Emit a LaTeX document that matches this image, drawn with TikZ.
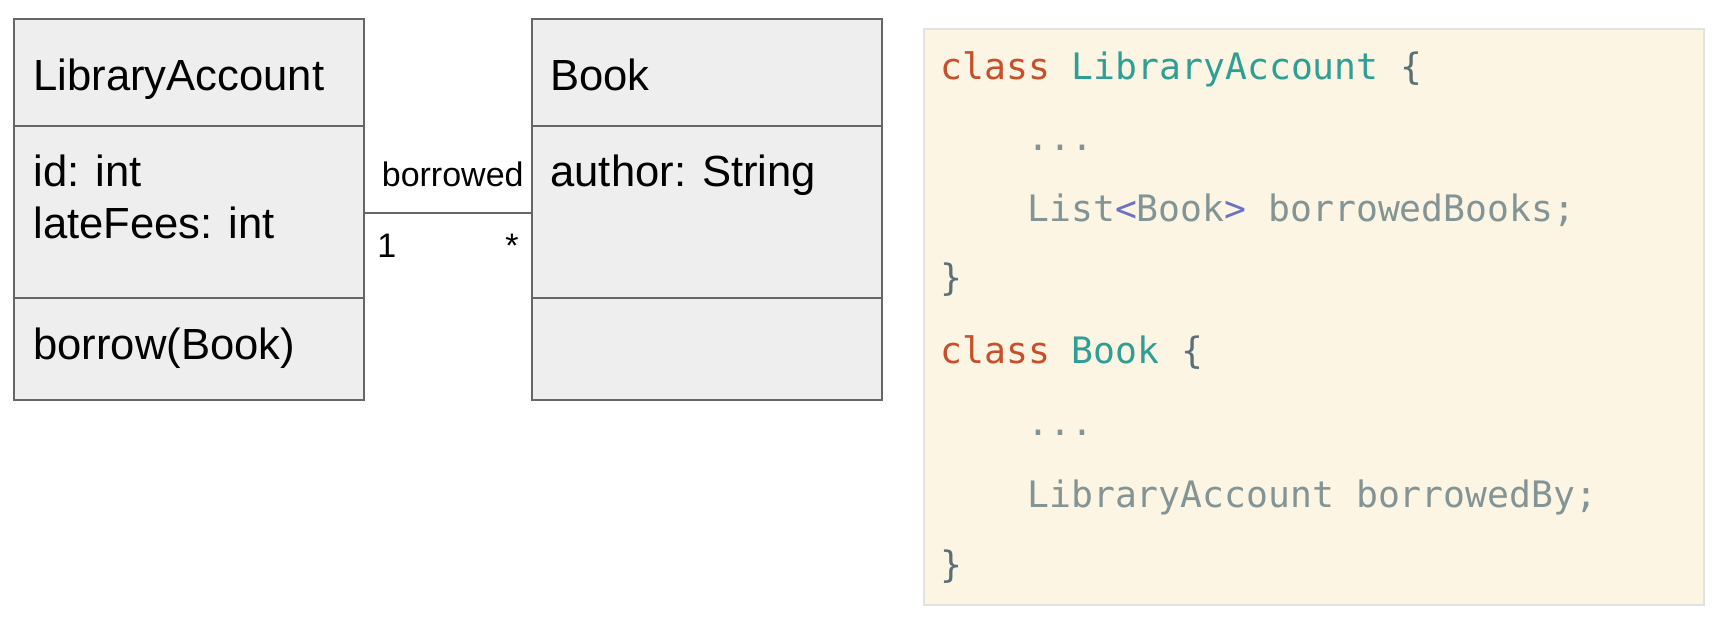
\documentclass[tikz,border=0pt]{standalone}
\usepackage{fontspec}
\setmainfont{Liberation Sans}
\setmonofont{DejaVu Sans Mono}
\definecolor{boxfill}{HTML}{EEEEEE}
\definecolor{boxline}{HTML}{666666}
\definecolor{codebg}{HTML}{FCF5E3}
\definecolor{codeborder}{HTML}{E2E2E2}
\definecolor{kw}{HTML}{C6502A}
\definecolor{cls}{HTML}{2F9F96}
\definecolor{punct}{HTML}{5B6F78}
\definecolor{txt}{HTML}{829495}
\definecolor{gen}{HTML}{6C71C4}
\tikzset{
  umlbox/.style={draw=boxline, fill=boxfill, line width=1.1pt, inner sep=0pt, outer sep=0pt,
    minimum width=175pt, minimum height=190.5pt},
  divider/.style={draw=boxline, line width=1.1pt},
  assoc/.style={draw=boxline, line width=1.1pt},
  umltext/.style={anchor=base west, inner sep=0pt, font=\fontsize{21.8pt}{26pt}\selectfont},
  smalltext/.style={inner sep=0pt, font=\fontsize{17pt}{20pt}\selectfont},
  codepanel/.style={draw=codeborder, fill=codebg, line width=0.6pt, inner sep=0pt, outer sep=0pt,
    minimum width=390pt, minimum height=288pt},
  codeline/.style={anchor=base west, inner sep=0pt, font=\ttfamily\fontsize{18.2pt}{22pt}\selectfont},
}
\begin{document}
\begin{tikzpicture}[x=0.5pt, y=-0.5pt]
\useasboundingbox (0,0) rectangle (1718,622);
% UML boxes
\node[umlbox] (la) at (189,209.5) {};
\node[umlbox] (book) at (707,209.5) {};
\coordinate (d1) at (0,126);
\coordinate (d2) at (0,298);
\draw[divider] (la.west |- d1) -- (la.east |- d1);
\draw[divider] (la.west |- d2) -- (la.east |- d2);
\draw[divider] (book.west |- d1) -- (book.east |- d1);
\draw[divider] (book.west |- d2) -- (book.east |- d2);
% texts
\node[umltext] (laname) at (33,90) {LibraryAccount};
\node[umltext] (laid) at (33,186) {id: int};
\node[umltext] (lafees) at (33,238) {lateFees: int};
\node[umltext] (laop) at (33,359) {borrow(Book)};
\node[umltext] (bname) at (550,90) {Book};
\node[umltext] (bauthor) at (550,186) {author: String};
% association
\coordinate (ay) at (0,213);
\draw[assoc] (la.east |- ay) -- (book.west |- ay);
\node[smalltext, anchor=base east] (role) at (524,186) {borrowed};
\node[smalltext, anchor=base west] (m1) at (377,257) {1};
\node[smalltext, anchor=base east] (m2) at (519,257) {*};
% code panel
\node[codepanel] (code) at (1314,317) {};
\node[codeline] (c1) at (940,79) {\textcolor{kw}{class} \textcolor{cls}{LibraryAccount} \textcolor{punct}{\{}};
\node[codeline] (c2) at (1027,150) {\textcolor{txt}{...}};
\node[codeline] (c3) at (1027,221) {\textcolor{txt}{List}\textcolor{gen}{<}\textcolor{txt}{Book}\textcolor{gen}{>} \textcolor{txt}{borrowedBooks;}};
\node[codeline] (c4) at (940,290) {\textcolor{punct}{\}}};
\node[codeline] (c5) at (940,363) {\textcolor{kw}{class} \textcolor{cls}{Book} \textcolor{punct}{\{}};
\node[codeline] (c6) at (1027,435) {\textcolor{txt}{...}};
\node[codeline] (c7) at (1027,507) {\textcolor{txt}{LibraryAccount borrowedBy;}};
\node[codeline] (c8) at (940,577) {\textcolor{punct}{\}}};
\end{tikzpicture}
\end{document}
